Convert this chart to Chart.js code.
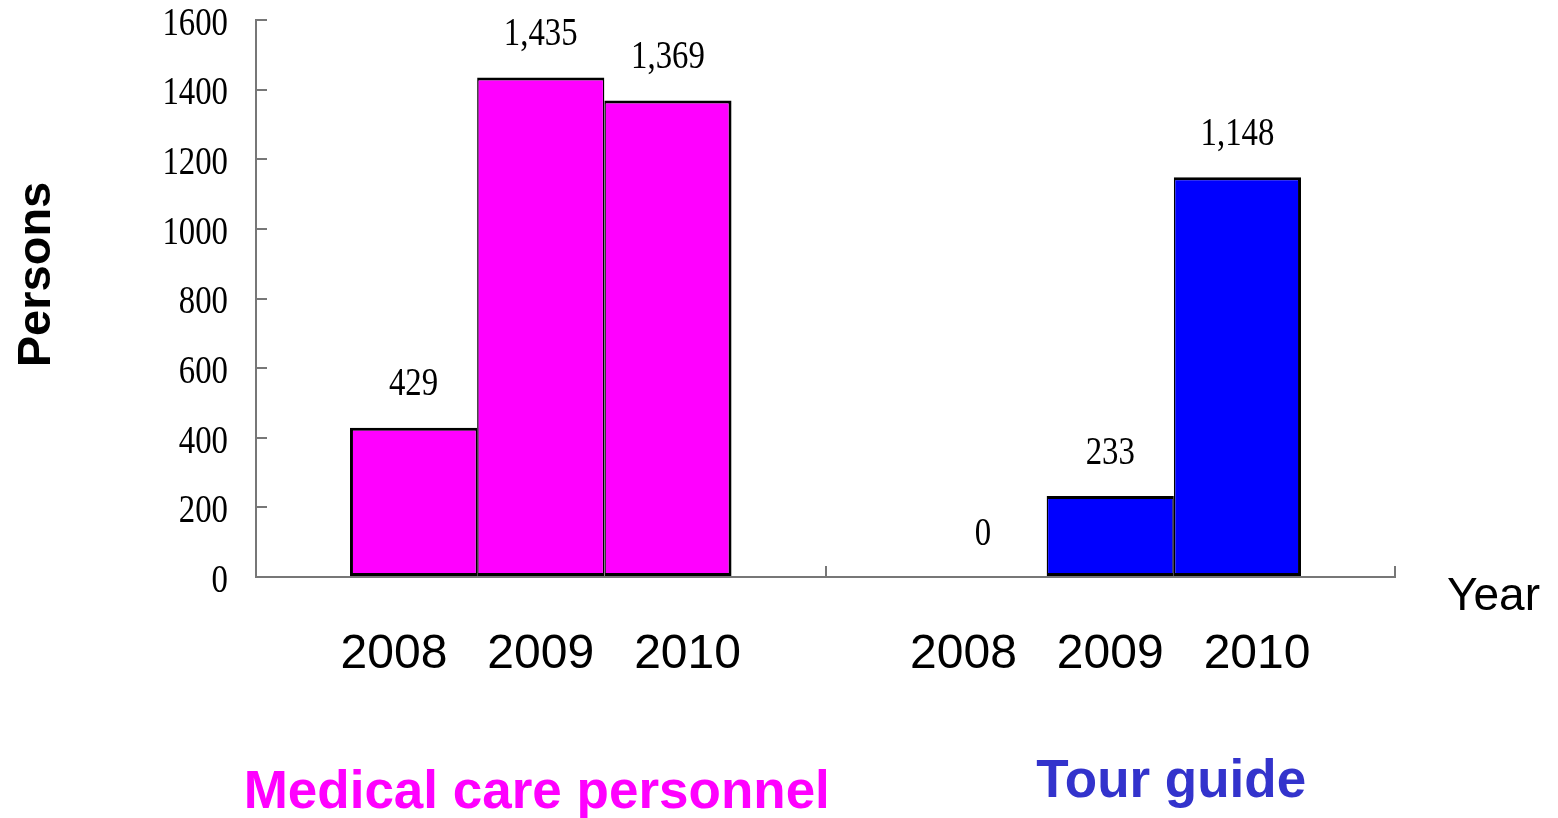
<!DOCTYPE html>
<html>
<head>
<meta charset="utf-8">
<script src="https://cdn.jsdelivr.net/npm/chart.js@4"></script>
<style>
  html, body { margin: 0; padding: 0; background: #fff; }
  #wrap { width: 1558px; height: 818px; }
</style>
</head>
<body>
<div id="wrap"><canvas id="chart"></canvas></div>
<script>
// data
const groups = ['Medical care personnel', 'Tour guide'];
const years = ['2008', '2009', '2010'];
const values2008 = [429, 0];
const values2009 = [1435, 233];
const values2010 = [1369, 1148];
const yTicks = [0, 200, 400, 600, 800, 1000, 1200, 1400, 1600];

const barColors = ['#FF00FF', '#0000FF'];
const groupTextColors = ['#FF00FF', '#3333CC'];
const axisGrey = '#777';

const serifFont = size => size + 'px "Liberation Serif", "Times New Roman", serif';
const sansFont = (size, bold) => (bold ? 'bold ' : '') + size + 'px "Liberation Sans", Arial, sans-serif';

// narrow serif text (the original uses a condensed Ming-style face)
const drawNarrow = (ctx, text, x, y, align) => {
  ctx.save();
  ctx.translate(x, y);
  ctx.scale(0.8, 1);
  ctx.textAlign = align;
  ctx.textBaseline = 'middle';
  ctx.fillText(text, 0, 0);
  ctx.restore();
};

const textPlugin = {
  id: 'texts',
  afterDraw(chart) {
    const ctx = chart.ctx;
    const area = chart.chartArea;
    const ys = chart.scales.y;
    const xs = chart.scales.x;
    ctx.save();
    ctx.fillStyle = '#000';
    ctx.font = serifFont(41);

    // y tick labels
    ys.ticks.forEach(t => {
      drawNarrow(ctx, String(t.value), area.left - 28, ys.getPixelForValue(t.value) + 4, 'right');
    });

    // value labels above bars
    chart.data.datasets.forEach((ds, di) => {
      chart.getDatasetMeta(di).data.forEach((bar, i) => {
        drawNarrow(ctx, ds.data[i].toLocaleString('en-US'), bar.x, bar.y - 43, 'center');
      });
    });

    // "Year" at the end of the x axis
    ctx.font = sansFont(46, false);
    ctx.textAlign = 'left';
    ctx.textBaseline = 'alphabetic';
    ctx.fillText('Year', area.right + 52, area.bottom + 33);

    // group names
    const shiftX = [-4, 61];
    const baseY = [231, 220];
    ctx.font = sansFont(53, true);
    ctx.textAlign = 'center';
    groups.forEach((g, i) => {
      ctx.fillStyle = groupTextColors[i];
      ctx.fillText(g, xs.getPixelForValue(i) + shiftX[i], area.bottom + baseY[i]);
    });

    // y axis title
    ctx.fillStyle = '#000';
    ctx.font = sansFont(47, true);
    ctx.translate(50, (area.top + area.bottom) / 2 - 24);
    ctx.rotate(-Math.PI / 2);
    ctx.fillText('Persons', 0, 0);
    ctx.restore();
  }
};

const makeDataset = (label, data, di) => ({
  label: label,
  data: data,
  backgroundColor: ctx => barColors[ctx.dataIndex],
  borderColor: '#000',
  borderSkipped: false,
  borderWidth: ctx => ctx.raw === 0 ? 0 : {
    top: 3, bottom: 3,
    left: di === 0 ? 3 : 1.5,
    right: di === 2 ? 3 : 1.5
  },
  barPercentage: 1.0,
  categoryPercentage: 0.67
});

new Chart(document.getElementById('chart'), {
  type: 'bar',
  data: {
    labels: groups,
    datasets: [
      makeDataset(years[0], values2008, 0),
      makeDataset(years[1], values2009, 1),
      makeDataset(years[2], values2010, 2)
    ]
  },
  options: {
    responsive: true,
    maintainAspectRatio: false,
    animation: false,
    layout: { padding: { top: 20, right: 163, left: 0, bottom: 0 } },
    plugins: {
      legend: { display: false },
      tooltip: { enabled: false }
    },
    scales: {
      x: {
        afterFit: s => { s.height = 241; },
        grid: { drawOnChartArea: false, drawTicks: true, tickLength: -11, color: axisGrey, lineWidth: 2 },
        border: { display: true, color: axisGrey, width: 2 },
        ticks: {
          padding: 60,
          color: '#000',
          font: { family: '"Liberation Sans", Arial, sans-serif', size: 48 },
          callback: () => years.join('   ')
        }
      },
      y: {
        min: 0,
        max: 1600,
        afterFit: s => { s.width = 256; },
        afterBuildTicks: s => { s.ticks = yTicks.map(v => ({ value: v })); },
        grid: { drawOnChartArea: false, drawTicks: true, tickLength: -11, color: axisGrey, lineWidth: 2 },
        border: { display: true, color: axisGrey, width: 2 },
        ticks: { display: false }
      }
    }
  },
  plugins: [textPlugin]
});
</script>
</body>
</html>
